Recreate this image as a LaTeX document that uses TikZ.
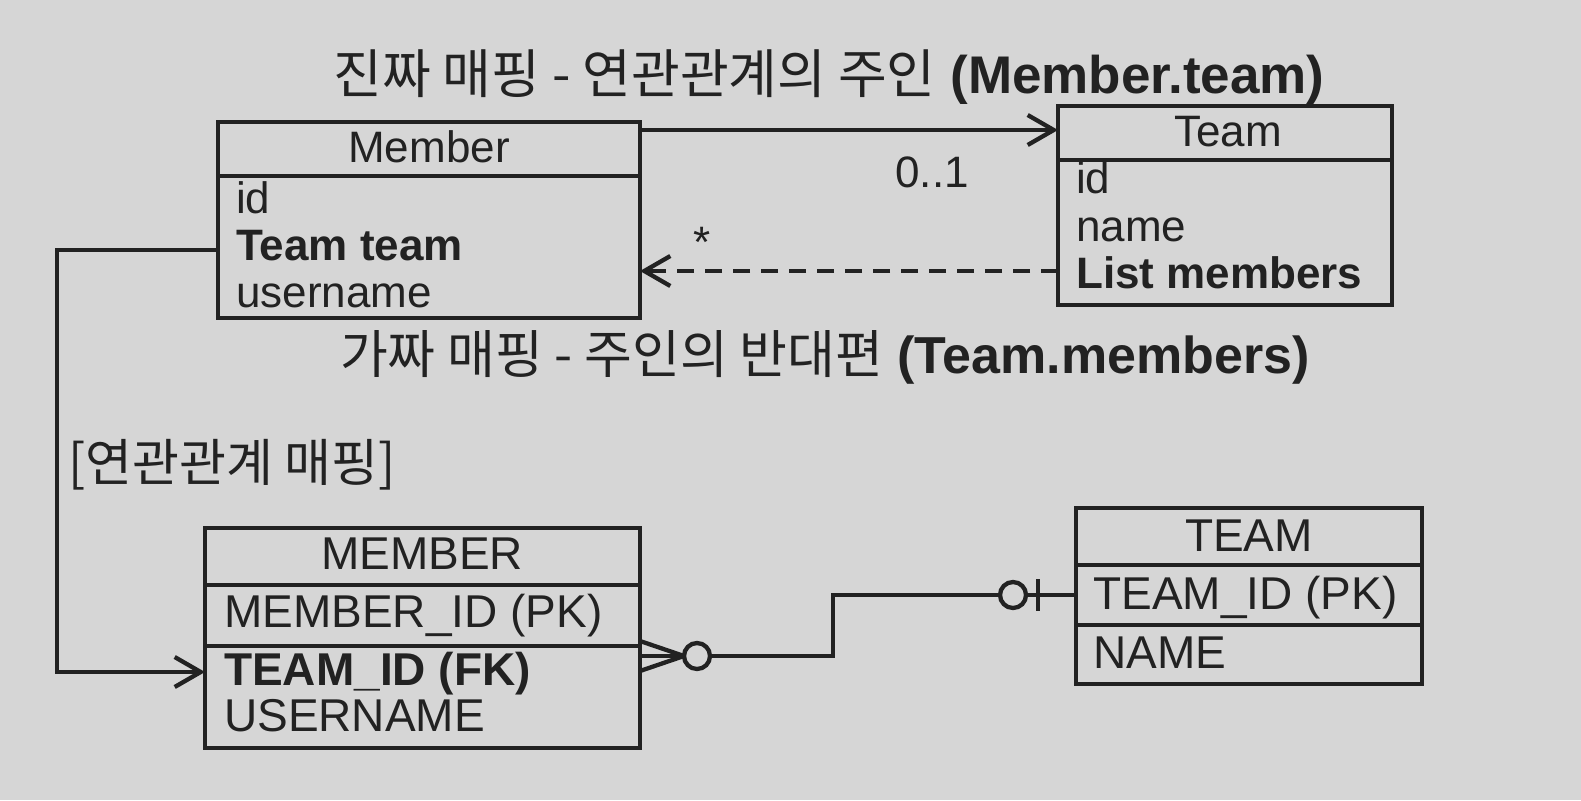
\documentclass[tikz,border=0pt]{standalone}
\usepackage{fontspec}
\setmainfont{Liberation Sans}
\newfontfamily\kr{Noto Sans CJK KR}
\usetikzlibrary{arrows.meta,calc}
\definecolor{paper}{HTML}{D6D6D6}
\definecolor{ink}{HTML}{222222}
\tikzset{
  box/.style={draw=ink, line width=4.8pt, anchor=north west, inner sep=0pt, outer sep=0pt},
  sepline/.style={draw=ink, line width=4.8pt},
  lbl/.style={text=ink, inner sep=0pt, anchor=base west, font=\fontsize{44}{50}\selectfont},
  lblb/.style={text=ink, inner sep=0pt, anchor=base west, font=\fontsize{44}{50}\selectfont\bfseries},
  hdr/.style={text=ink, inner sep=0pt, anchor=base, font=\fontsize{44}{50}\selectfont},
  tlbl/.style={text=ink, inner sep=0pt, anchor=base west, font=\fontsize{46}{52}\selectfont},
  tlblb/.style={text=ink, inner sep=0pt, anchor=base west, font=\fontsize{46}{52}\selectfont\bfseries},
  thdr/.style={text=ink, inner sep=0pt, anchor=base, font=\fontsize{46}{52}\selectfont},
  ttlA/.style={text=ink, inner sep=0pt, anchor=base, font=\fontsize{53}{60}\selectfont},
  ttlB/.style={text=ink, inner sep=0pt, anchor=base, font=\fontsize{52}{60}\selectfont},
  conn/.style={draw=ink, line width=4.3pt},
  barb/.style={-{Straight Barb[length=26pt,width=30pt]}},
  mult/.style={text=ink, inner sep=0pt, anchor=base, font=\fontsize{44}{50}\selectfont},
  circ/.style={circle, draw=ink, line width=4.3pt, minimum size=26pt, inner sep=0pt, outer sep=0pt},
}
\begin{document}
\begin{tikzpicture}[x=1pt,y=-1pt]
\fill[paper] (0,0) rectangle (1581,800);
\useasboundingbox (0,0) rectangle (1581,800);

% titles
\node[ttlA] (t1) at (829,93) {{\kr 진짜 매핑 - 연관관계의 주인} \textbf{(Member.team)}};
\node[ttlB] (t2) at (825,373) {{\kr 가짜 매핑 - 주인의 반대편} \textbf{(Team.members)}};

% Member class
\node[box, minimum width=422pt, minimum height=196pt] (member) at (218,122) {};
\draw[sepline] ($(member.north west)+(0,54)$) -- ($(member.north east)+(0,54)$);
\node[hdr] (memberH) at (429,162) {Member};
\node[lbl] (mId) at (236,213) {id};
\node[lblb] (mTeam) at (236,260) {Team team};
\node[lbl] (mUser) at (236,307) {username};

% Team class
\node[box, minimum width=334pt, minimum height=199pt] (team) at (1058,106) {};
\draw[sepline] ($(team.north west)+(0,54)$) -- ($(team.north east)+(0,54)$);
\node[hdr] (teamH) at (1228,146) {Team};
\node[lbl] (tId) at (1076,193) {id};
\node[lbl] (tName) at (1076,241) {name};
\node[lblb] (tList) at (1076,288) {List members};

% associations between classes
\draw[conn, barb] ($(member.north east)+(0,8)$) -- ($(team.north west)+(0,24)$);
\node[mult] (m01) at (932,187) {0..1};
\node[mult] (mstar) at (702,257) {*};
\draw[conn, barb, dash pattern=on 17pt off 11pt] ($(team.north west)+(0,165)$) -- ($(member.north east)+(0,149)$);

% MEMBER table
\node[box, minimum width=435pt, minimum height=220pt] (MEMBER) at (205,528) {};
\draw[sepline] ($(MEMBER.north west)+(0,57)$) -- ($(MEMBER.north east)+(0,57)$);
\draw[sepline] ($(MEMBER.north west)+(0,118)$) -- ($(MEMBER.north east)+(0,118)$);
\node[thdr] (MEMBERH) at (422,569) {MEMBER};
\node[tlbl] (MId) at (224,627) {MEMBER\_ID (PK)};
\node[tlblb] (MTeam) at (224,685) {TEAM\_ID (FK)};
\node[tlbl] (MUser) at (224,731) {USERNAME};

% TEAM table
\node[box, minimum width=346pt, minimum height=176pt] (TEAM) at (1076,508) {};
\draw[sepline] ($(TEAM.north west)+(0,57)$) -- ($(TEAM.north east)+(0,57)$);
\draw[sepline] ($(TEAM.north west)+(0,117)$) -- ($(TEAM.north east)+(0,117)$);
\node[thdr] (TEAMH) at (1249,551) {TEAM};
\node[tlbl] (TId) at (1093,609) {TEAM\_ID (PK)};
\node[tlbl] (TName) at (1093,668) {NAME};

% mapping connector
\coordinate (elbowL) at (57,250);
\node[text=ink, inner sep=0pt, anchor=west, font=\fontsize{51}{58}\selectfont\kr] (assoc) at (68,465) {[연관관계 매핑]};
\draw[conn, barb] ($(member.north west)+(0,128)$) -- (elbowL) |- ($(MEMBER.north west)+(0,144)$);

% ER relationship
\coordinate (cf) at ($(MEMBER.north east)+(0,128)$);
\draw[conn] ($(cf)+(0,-15)$) -- ($(cf)+(44,0)$);
\draw[conn] (cf) -- ($(cf)+(44,0)$);
\draw[conn] ($(cf)+(0,15)$) -- ($(cf)+(44,0)$);
\node[circ] (c1) at ($(cf)+(57,0)$) {};
\node[circ] (c2) at ($(TEAM.north west)+(-63,87)$) {};
\coordinate (bend) at (833,0);
\draw[conn] (c1.east) -| (bend |- c2.west) -- (c2.west);
\draw[conn] (c2.east) -- (TEAM.west |- c2.east);
\draw[conn] ($(c2.center)+(25,-16)$) -- ($(c2.center)+(25,16)$);
\end{tikzpicture}
\end{document}
